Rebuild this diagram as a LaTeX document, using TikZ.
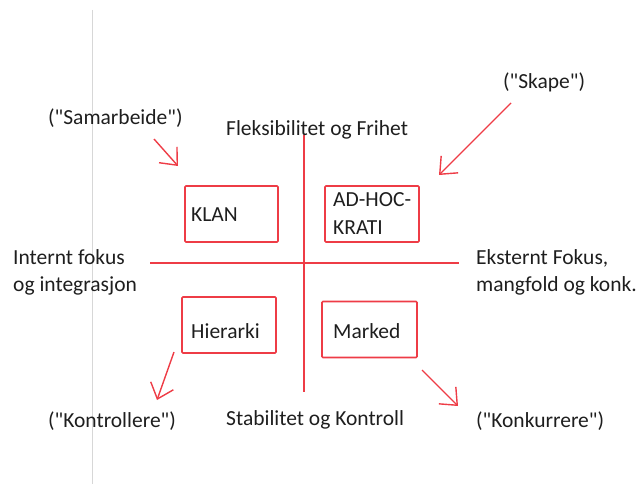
\documentclass[tikz,border=0pt]{standalone}
\usepackage{fontspec}
\setmainfont{Carlito}[Ligatures=TeXOff]
\usetikzlibrary{arrows.meta}
\definecolor{lred}{RGB}{238,60,70}
\definecolor{txt}{RGB}{30,30,30}
\definecolor{lgray}{RGB}{215,215,215}
\begin{document}
\begin{tikzpicture}[x=1pt,y=-1pt,
  lab/.style={font=\fontsize{21.5}{27}\selectfont, text=txt, inner sep=0pt, anchor=west, align=left},
  qbox/.style={draw=lred, line width=1.6pt, rounded corners=1pt, minimum width=#1, minimum height=56pt, inner sep=0pt},
  axis/.style={draw=lred, line width=1.6pt},
  pointer/.style={draw=lred, line width=1.4pt, -{Straight Barb[length=14pt,width=24pt]}}]
\useasboundingbox (0,0) rectangle (639,484);
% faint page margin line
\coordinate (gtop) at (92,10);
\coordinate (gbot) at (92,484);
\draw[lgray, line width=1pt] (gtop) -- (gbot);
% axes
\coordinate (vtop) at (304,135);
\coordinate (vbot) at (304,392);
\coordinate (hleft) at (150,263);
\coordinate (hright) at (459,263);
\draw[axis] (vtop) -- (vbot);
\draw[axis] (hleft) -- (hright);
% quadrant boxes
\node[qbox=93pt] (klan) at (231.5,214) {};
\node[lab] (klant) at (191,215) {KLAN};
\node[qbox=94pt] (adhoc) at (372,214) {};
\node[lab, font=\fontsize{21.5}{28}\selectfont] (adhoct) at (333,214) {AD-HOC-\\KRATI};
\node[qbox=94pt] (hier) at (229,325) {};
\node[lab] (hiert) at (191,331) {Hierarki};
\node[qbox=95pt] (marked) at (369.5,329.5) {};
\node[lab] (markedt) at (333,331) {Marked};
% axis labels
\node[lab] (flex) at (226,130) {Fleksibilitet og Frihet};
\node[lab] (stab) at (226,420) {Stabilitet og Kontroll};
\node[lab] (intern) at (13,272.5) {Internt fokus\\og integrasjon};
\node[lab] (ekstern) at (476,272.5) {Eksternt Fokus,\\mangfold og konk.};
% verbs
\node[lab] (samar) at (48,118) {("Samarbeide")};
\node[lab] (skape) at (503,82) {("Skape")};
\node[lab] (kontr) at (48,421) {("Kontrollere")};
\node[lab] (konk) at (476,421) {("Konkurrere")};
% arrows
\coordinate (a1s) at (154,139); \coordinate (a1e) at (178,166);
\coordinate (a2s) at (511,103); \coordinate (a2e) at (439,175);
\coordinate (a3s) at (174,352); \coordinate (a3e) at (157,400);
\coordinate (a4s) at (422,370); \coordinate (a4e) at (458,406);
\draw[pointer] (a1s) -- (a1e);
\draw[pointer] (a2s) -- (a2e);
\draw[pointer] (a3s) -- (a3e);
\draw[pointer] (a4s) -- (a4e);
\end{tikzpicture}
\end{document}
